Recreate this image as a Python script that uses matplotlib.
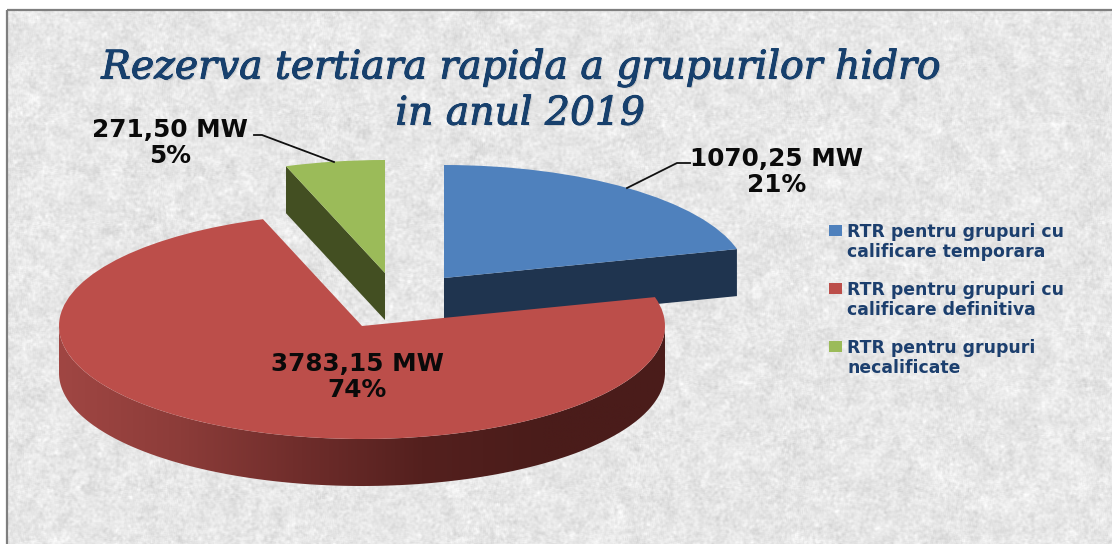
import numpy as np
import matplotlib
matplotlib.use("Agg")
import matplotlib.pyplot as plt
import matplotlib.patheffects as pe
from matplotlib.colors import LinearSegmentedColormap
from matplotlib.patches import Wedge, Polygon, Patch, Rectangle
from matplotlib.transforms import Affine2D

title_lines = ["Rezerva tertiara rapida a grupurilor hidro", "in anul 2019"]
series_names = ["RTR pentru grupuri cu\ncalificare temporara",
                "RTR pentru grupuri cu\ncalificare definitiva",
                "RTR pentru grupuri\nnecalificate"]
values = [1070.25, 3783.15, 271.50]
value_labels = ["1070,25 MW", "3783,15 MW", "271,50 MW"]
pct_labels = ["21%", "74%", "5%"]
top_colors = ["#4f81bd", "#bc4e4a", "#9bbb59"]
side_colors = ["#1f344f", "#5a2220", "#434f22"]

# exploded slice apex positions, in pixels
centers = [(444, 278), (362, 326), (385, 273)]
RX, RY, DEPTH = 303, 113, 47

W, H = 1112, 544
fig = plt.figure(figsize=(W / 100, H / 100), dpi=100, facecolor="white")
ax = fig.add_axes([0, 0, 1, 1])


def blur(a, n):
    # cheap box blur for the paper texture
    for axis in (0, 1):
        a = sum(np.roll(a, s, axis=axis) for s in range(-n, n + 1)) / (2 * n + 1)
    return a


# background paper texture only, not data
rng = np.random.default_rng(3)
noise = blur(rng.normal(size=(H, W)), 1) * 1.7 + blur(rng.normal(size=(H, W)), 6) * 5
ax.imshow(231 + noise * 9, cmap="gray", vmin=0, vmax=255, extent=(7, W, H, 10),
          aspect="auto", zorder=0, interpolation="bilinear")
ax.add_patch(Rectangle((7, 10), W, H, fill=False, ec="#7f7f7f", lw=1.6, zorder=1))

# slice angles, clockwise from twelve o'clock
edges = np.concatenate([[0], np.cumsum(values)]) / np.sum(values) * 360
edges[-1] = 360


def rim(cx, cy, clock):
    t = np.radians(clock)
    return cx + RX * np.sin(t), cy - RY * np.cos(t)


def top_face(i):
    cx, cy = centers[i]
    tr = Affine2D().scale(RX, -RY).translate(cx, cy) + ax.transData
    ax.add_patch(Wedge((0, 0), 1, 90 - edges[i + 1], 90 - edges[i], fc=top_colors[i],
                       ec="none", transform=tr, zorder=4))


def radial_face(i, clock):
    cx, cy = centers[i]
    x, y = rim(cx, cy, clock)
    ax.add_patch(Polygon([(cx, cy), (x, y), (x, y + DEPTH), (cx, cy + DEPTH)],
                         fc=side_colors[i], ec="none", zorder=3))


# red: curved wall with the gradient, then the top
cx, cy = centers[1]
clock = np.linspace(90, 270, 200)
xs, ys = rim(cx, cy, clock)
wall = np.column_stack([np.r_[xs, xs[::-1]], np.r_[ys, ys[::-1] + DEPTH]])
wall_cmap = LinearSegmentedColormap.from_list(
    "wall", ["#a04643", "#8c3c39", "#6f2d2b", "#54201e", "#4a1c1a", "#4a1c1a"])
grad = ax.imshow(np.linspace(0, 1, 256).reshape(1, -1), cmap=wall_cmap, aspect="auto",
                 extent=(cx - RX, cx + RX, cy + RY + DEPTH, cy), zorder=2)
clip = Polygon(wall, transform=ax.transData, fc="none", ec="none")
ax.add_patch(clip)
grad.set_clip_path(clip)
top_face(1)

# blue sits over the red corner
radial_face(0, edges[1])
top_face(0)

# green
radial_face(2, edges[2])
top_face(2)

ax.set_xlim(0, W)
ax.set_ylim(H, 0)
ax.axis("off")

for y, line in zip([68, 114], title_lines):
    ax.text(520, y, line, ha="center", va="center", family="DejaVu Serif",
            style="italic", fontsize=28.3, color="#17406d", zorder=6,
            path_effects=[pe.withStroke(linewidth=0.7, foreground="#17406d"),
                          pe.withSimplePatchShadow(offset=(1, -1), alpha=0.12),
                          pe.Normal()])

label_pos = [(777, 172), (357, 377), (170, 143)]
for (x, y), v, p in zip(label_pos, value_labels, pct_labels):
    ax.text(x, y, v + "\n" + p, ha="center", va="center", family="DejaVu Sans",
            weight="bold", fontsize=17.8, color="#0a0a0a", linespacing=1.15, zorder=6)

# leader lines
ax.plot([690, 677, 627], [163, 163, 188], color="#111111", lw=1.3, zorder=5)
ax.plot([254, 262, 334], [135, 135, 162], color="#111111", lw=1.3, zorder=5)

handles = [Patch(fc=c, ec="none") for c in top_colors]
leg = ax.legend(handles, series_names, loc="upper left", bbox_to_anchor=(829 / W, 1 - 223 / H),
                bbox_transform=fig.transFigure, frameon=False, borderpad=0, borderaxespad=0,
                handlelength=0.75, handleheight=0.62, handletextpad=0.32, labelspacing=1.15,
                prop={"family": "DejaVu Sans", "weight": "bold", "size": 12.4})
leg.set_zorder(6)
for t in leg.get_texts():
    t.set_color("#1c3f6e")
    t.set_linespacing(1.15)
# swatches line up with the first line of each label
for h in leg.legend_handles:
    h.set_y(h.get_y() + 9)

fig.savefig("out.png", dpi=100)
